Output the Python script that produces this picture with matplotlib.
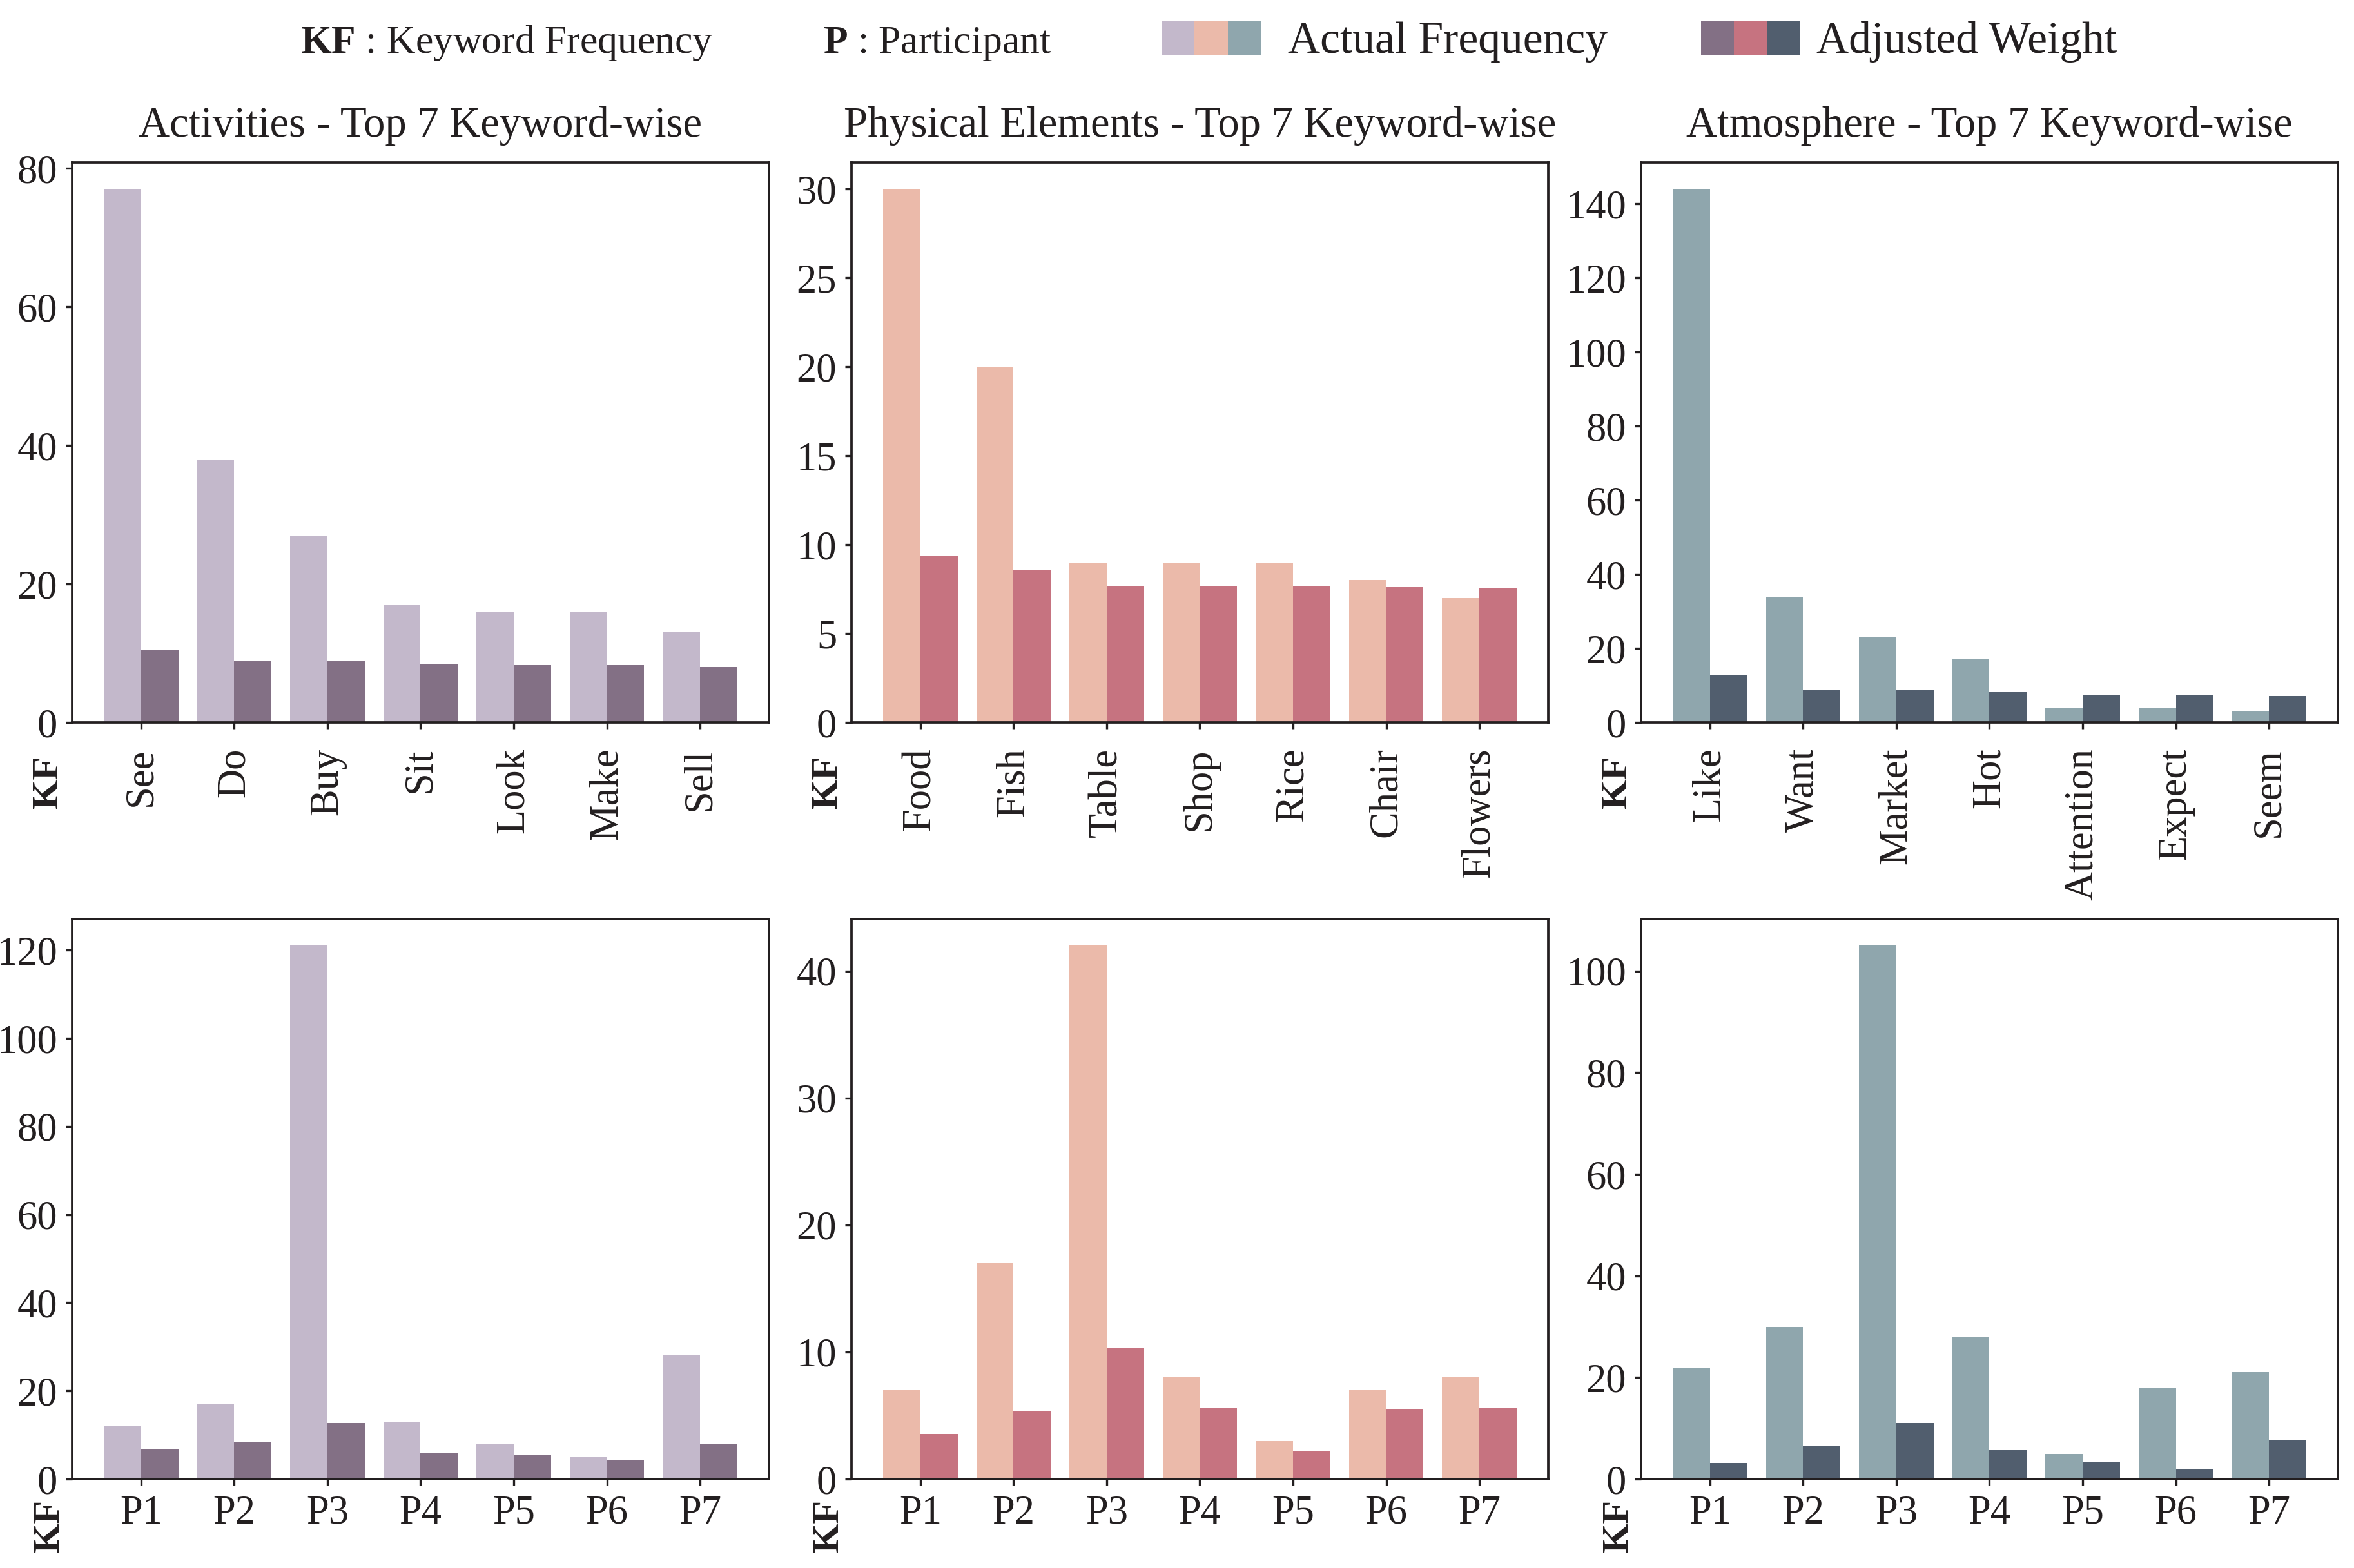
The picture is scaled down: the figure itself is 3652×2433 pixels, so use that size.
import matplotlib
matplotlib.use('Agg')
import matplotlib.pyplot as plt
from matplotlib.patches import Rectangle
from matplotlib.ticker import MultipleLocator
import numpy as np

plt.rcParams['font.family'] = ['Liberation Serif', 'DejaVu Serif']
plt.rcParams['mathtext.fontset'] = 'custom'
plt.rcParams['mathtext.rm'] = 'Liberation Serif'
plt.rcParams['mathtext.bf'] = 'Liberation Serif:bold'

# ---------------- data ----------------
act_keywords = ['See', 'Do', 'Buy', 'Sit', 'Look', 'Make', 'Sell']
act_freq = [77, 38, 27, 17, 16, 16, 13]
act_weight = [10.5, 8.8, 8.8, 8.4, 8.3, 8.3, 8.0]

phy_keywords = ['Food', 'Fish', 'Table', 'Shop', 'Rice', 'Chair', 'Flowers']
phy_freq = [30, 20, 9, 9, 9, 8, 7]
phy_weight = [9.35, 8.6, 7.7, 7.7, 7.7, 7.6, 7.55]

atm_keywords = ['Like', 'Want', 'Market', 'Hot', 'Attention', 'Expect', 'Seem']
atm_freq = [144, 34, 23, 17, 4, 4, 3]
atm_weight = [12.7, 8.7, 8.9, 8.4, 7.3, 7.3, 7.2]

participants = ['P1', 'P2', 'P3', 'P4', 'P5', 'P6', 'P7']
act_p_freq = [12, 17, 121, 13, 8, 5, 28]
act_p_weight = [6.85, 8.3, 12.7, 6.0, 5.6, 4.35, 7.9]
phy_p_freq = [7, 17, 42, 8, 3, 7, 8]
phy_p_weight = [3.55, 5.35, 10.3, 5.6, 2.25, 5.55, 5.6]
atm_p_freq = [22, 30, 105, 28, 5, 18, 21]
atm_p_weight = [3.2, 6.45, 11.05, 5.7, 3.45, 2.0, 7.6]

titles = ['Activities - Top 7 Keyword-wise',
          'Physical Elements - Top 7 Keyword-wise',
          'Atmosphere - Top 7 Keyword-wise']

top_steps = [20, 5, 20]
bot_steps = [20, 10, 20]

light_colors = ['#C3B8CB', '#EBBAAA', '#8FA6AD']
dark_colors = ['#837085', '#C67380', '#515E6E']

TXT = '#231F20'

fig = plt.figure(figsize=(3653 / 300, 2433 / 300), dpi=300)

lefts = [112, 1321, 2546]
width_px = 1081
tops = [252, 1426]
height_px = 869
W, H = 3653, 2433

top_data = [(act_keywords, act_freq, act_weight),
            (phy_keywords, phy_freq, phy_weight),
            (atm_keywords, atm_freq, atm_weight)]
bot_data = [(participants, act_p_freq, act_p_weight),
            (participants, phy_p_freq, phy_p_weight),
            (participants, atm_p_freq, atm_p_weight)]

bw = 0.4
for row in range(2):
    for col in range(3):
        l = lefts[col] / W
        b = 1 - (tops[row] + height_px) / H
        ax = fig.add_axes([l, b, width_px / W, height_px / H])
        labels, freq, weight = (top_data if row == 0 else bot_data)[col]
        x = np.arange(len(labels))
        ax.bar(x - bw / 2, freq, width=bw, color=light_colors[col], linewidth=0)
        ax.bar(x + bw / 2, weight, width=bw, color=dark_colors[col], linewidth=0)
        ax.set_xticks(x)
        if row == 0:
            ax.yaxis.set_major_locator(MultipleLocator(top_steps[col]))
            ax.set_xticklabels(labels, rotation=90, fontsize=15, color=TXT)
            ax.tick_params(axis='x', pad=7)
            ax.set_title(titles[col], fontsize=16, pad=9.5, color=TXT)
            ax.text(-0.010, -0.060, 'KF', transform=ax.transAxes, rotation=90,
                    ha='right', va='top', fontsize=14, fontweight='bold', color=TXT)
        else:
            ax.yaxis.set_major_locator(MultipleLocator(bot_steps[col]))
            ax.set_xticklabels(labels, fontsize=15, color=TXT)
            ax.tick_params(axis='x', pad=3.5)
            ax.text(-0.008, -0.037, 'KF', transform=ax.transAxes, rotation=90,
                    ha='right', va='top', fontsize=14, fontweight='bold', color=TXT)
        ax.tick_params(axis='both', length=2.5, width=0.8, color=TXT, labelsize=15,
                       labelcolor=TXT)
        ax.tick_params(axis='y', pad=3)
        for s in ax.spines.values():
            s.set_linewidth(0.9)
            s.set_color(TXT)

# ---------------- legend header ----------------
base_y = 1 - 82 / H
fig.text(466 / W, base_y, r'$\mathbf{KF}$ : Keyword Frequency', fontsize=14.8,
         ha='left', va='baseline', color=TXT)
fig.text(1277 / W, base_y, r'$\mathbf{P}$ : Participant', fontsize=14.8,
         ha='left', va='baseline', color=TXT)
pw = 51.3 / W
ph = 53 / H
py = 1 - 86 / H
for i, c in enumerate(light_colors):
    fig.patches.append(Rectangle((1802 / W + i * pw, py), pw, ph, transform=fig.transFigure,
                                 facecolor=c, edgecolor='none'))
for i, c in enumerate(dark_colors):
    fig.patches.append(Rectangle((2639 / W + i * pw, py), pw, ph, transform=fig.transFigure,
                                 facecolor=c, edgecolor='none'))
fig.text(1998 / W, base_y, 'Actual Frequency', fontsize=16.7, ha='left', va='baseline', color=TXT)
fig.text(2818 / W, base_y, 'Adjusted Weight', fontsize=16.7, ha='left', va='baseline', color=TXT)

fig.savefig('out.png', dpi=300)
